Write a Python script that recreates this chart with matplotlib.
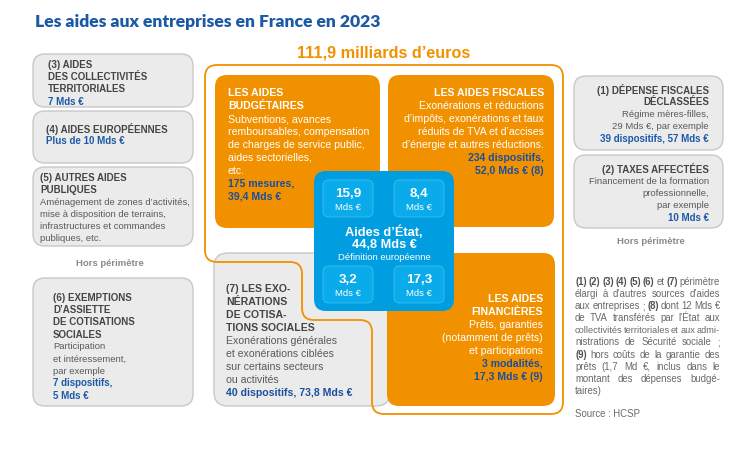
import matplotlib
matplotlib.use("Agg")
import matplotlib.pyplot as plt
import numpy as np
from matplotlib.patches import FancyBboxPatch, PathPatch
from matplotlib.path import Path

# ==========================================
# ================ DONNÉES =================
# ==========================================
titre = "Les aides aux entreprises en France en 2023"
total_mds = "111,9"

budget_titre = ["LES AIDES", "BUDGÉTAIRES"]
budget_texte = ["Subventions, avances", "remboursables, compensation",
                "de charges de service public,", "aides sectorielles,", "etc."]
budget_nb, budget_mds = "175 mesures", "39,4"

fiscal_titre = ["LES AIDES FISCALES"]
fiscal_texte = ["Exonérations et réductions", "d’impôts, exonérations et taux",
                "réduits de TVA et d’accises", "d’énergie et autres réductions."]
fiscal_nb, fiscal_mds = "234 dispositifs", "52,0"

financ_titre = ["LES AIDES", "FINANCIÈRES"]
financ_texte = ["Prêts, garanties", "(notamment de prêts)", "et participations"]
financ_nb, financ_mds = "3 modalités", "17,3"

exo_titre = ["(7) LES EXO-", "NÉRATIONS", "DE COTISA-", "TIONS SOCIALES"]
exo_texte = ["Exonérations générales", "et exonérations ciblées",
             "sur certains secteurs", "ou activités"]
exo_nb, exo_mds = "40 dispositifs", "73,8"

etat_total = "44,8"
etat_parts = ["15,9", "8,4", "3,2", "17,3"]   # budgétaires, fiscales, exonérations, financières

# hors périmètre, à gauche
gauche = [
    (["(3) AIDES", "DES COLLECTIVITÉS", "TERRITORIALES"], [], ["7 Mds €"]),
    (["(4) AIDES EUROPÉENNES"], [], ["Plus de 10 Mds €"]),
    (["(5) AUTRES AIDES", "PUBLIQUES"],
     ["Aménagement de zones d’activités,", "mise à disposition de terrains,",
      "infrastructures et commandes", "publiques, etc."], []),
    (["(6) EXEMPTIONS", "D’ASSIETTE", "DE COTISATIONS", "SOCIALES"],
     ["Participation", "et intéressement,", "par exemple"], ["7 dispositifs,", "5 Mds €"]),
]
# hors périmètre, à droite
droite = [
    (["(1) DÉPENSE FISCALES", "DÉCLASSÉES"], ["Régime mères-filles,", "29 Mds €, par exemple"],
     ["39 dispositifs, 57 Mds €"]),
    (["(2) TAXES AFFECTÉES"], ["Financement de la formation", "professionnelle,", "par exemple"],
     ["10 Mds €"]),
]

notes = [
    "*(1) *(2) *(3) *(4) *(5) *(6) et *(7) périmètre",
    "élargi à d’autres sources d’aides",
    "aux entreprises ; *(8) dont 12 Mds €",
    "de TVA transférés par l’État aux",
    "collectivités territoriales et aux admi-",
    "nistrations de Sécurité sociale ;",
    "*(9) hors coûts de la garantie des",
    "prêts (1,7 Md €, inclus dans le",
    "montant des dépenses budgé-",
    "taires)",
]
source = "Source : HCSP"

# ==========================================
# ================ COULEURS ================
# ==========================================
ORANGE = "#f29100"
BLEU_TITRE = "#1d5aa6"
BLEU_TXT = "#1b4f9b"
BLEU_BOITE = "#009ee0"
BLEU_CASE = "#0aabea"
GRIS_FOND = "#ebebeb"
GRIS_BORD = "#c8c8c8"
GRIS_TITRE = "#454545"
GRIS_TXT = "#5a5a5a"

plt.rcParams['font.family'] = ['Liberation Sans', 'DejaVu Sans']

fig = plt.figure(figsize=(7.4, 4.6), dpi=100)
ax = fig.add_axes([0, 0, 1, 1])
ax.set_xlim(0, 740)
ax.set_ylim(460, 0)
ax.axis('off')


def boite(x0, y0, x1, y1, fc, ec='none', r=10, lw=1.0, z=1):
    p = FancyBboxPatch((x0, y0), x1 - x0, y1 - y0,
                       boxstyle="round,pad=0,rounding_size=%g" % r,
                       fc=fc, ec=ec, lw=lw, zorder=z)
    ax.add_patch(p)


def chemin_arrondi(pts, r):
    pts = [np.array(p, float) for p in pts]
    verts, codes = [], []
    n = len(pts)
    for i in range(n):
        p0, p1, p2 = pts[i - 1], pts[i], pts[(i + 1) % n]
        d1 = (p0 - p1) / np.linalg.norm(p0 - p1)
        d2 = (p2 - p1) / np.linalg.norm(p2 - p1)
        a, b = p1 + d1 * r, p1 + d2 * r
        verts.append(a)
        codes.append(Path.MOVETO if i == 0 else Path.LINETO)
        verts += [p1, b]
        codes += [Path.CURVE3, Path.CURVE3]
    verts.append(verts[0])
    codes.append(Path.CLOSEPOLY)
    return Path(verts, codes)


def lignes(x, y, blocs, ha='left', dy=13, size=7.6, z=5):
    # blocs : liste de (textes, couleur, gras, taille)
    for textes, couleur, gras, taille in blocs:
        for t in textes:
            ax.text(x, y, t, ha=ha, va='center_baseline', fontsize=taille or size,
                    color=couleur, fontweight='bold' if gras else 'normal', zorder=z)
            y += dy


# ---- titres ----
ax.text(35, 22, titre, ha='left', va='center', fontsize=12.6, fontweight='heavy',
        color=BLEU_TITRE, family=['Lato', 'DejaVu Sans'])
ax.text(384, 53, total_mds + " milliards d’euros", ha='center', va='center',
        fontsize=11.7, fontweight='bold', color=ORANGE)

# ---- boîte (7), sous le contour ----
boite(214, 254, 390, 407, GRIS_FOND, GRIS_BORD, r=14, z=1)

# ---- contour orange ----
contour = chemin_arrondi([(205, 66), (563, 66), (563, 415), (372, 415), (372, 321),
                          (302, 321), (302, 263), (205, 263)], 12)
ax.add_patch(PathPatch(contour, fc='none', ec=ORANGE, lw=1.3, zorder=2))

# ---- boîtes orange ----
boite(215, 76, 380, 229, ORANGE, r=12, z=3)
boite(388, 76, 554, 228, ORANGE, r=12, z=3)
boite(387, 254, 555, 407, ORANGE, r=12, z=3)

lignes(228, 92, [(budget_titre, 'white', True, None), (budget_texte, 'white', False, None),
                 ([budget_nb + ",", budget_mds + " Mds €"], BLEU_TXT, True, None)])
lignes(544, 92, [(fiscal_titre, 'white', True, None), (fiscal_texte, 'white', False, None),
                 ([fiscal_nb + ",", fiscal_mds + " Mds € (8)"], BLEU_TXT, True, None)], ha='right')
lignes(543, 298, [(financ_titre, 'white', True, None), (financ_texte, 'white', False, None),
                  ([financ_nb + ",", financ_mds + " Mds € (9)"], BLEU_TXT, True, None)], ha='right')
lignes(226, 288, [(exo_titre, GRIS_TITRE, True, None), (exo_texte, GRIS_TXT, False, None),
                  ([exo_nb + ", " + exo_mds + " Mds €"], BLEU_TXT, True, None)])

# ---- aides d'État ----
boite(314, 172, 454, 312, BLEU_BOITE, r=12, z=6)
cases = [(323, 181), (394, 181), (323, 267), (394, 267)]
for (cx, cy), v in zip(cases, etat_parts):
    boite(cx, cy, cx + 50, cy + 37, BLEU_CASE, "#3cc0f2", r=6, lw=0.6, z=7)
    ax.text(cx + 25, cy + 12, v, ha='center', va='center_baseline', fontsize=9.6,
            fontweight='bold', color='white', zorder=8)
    ax.text(cx + 25, cy + 26, "Mds €", ha='center', va='center_baseline', fontsize=6.8,
            color='white', zorder=8)
ax.text(384, 231, "Aides d’État,", ha='center', va='center_baseline', fontsize=9.2,
        fontweight='bold', color='white', zorder=8)
ax.text(384, 244, etat_total + " Mds €", ha='center', va='center_baseline', fontsize=9.2,
        fontweight='bold', color='white', zorder=8)
ax.text(384, 256, "Définition européenne", ha='center', va='center_baseline', fontsize=6.8,
        color='white', zorder=8)

# ---- hors périmètre gauche ----
cadres_g = [(55, 108, 48, 64), (112, 164, 46, 128), (168, 247, 40, 177), (279, 407, 53, 297)]
for (y0, y1, tx, ty), (tt, tx_, nb) in zip(cadres_g, gauche):
    boite(33, y0, 193, y1, GRIS_FOND, GRIS_BORD, r=12, z=1)
    lignes(tx, ty, [(tt, GRIS_TITRE, True, 7.0), (tx_, GRIS_TXT, False, 6.8),
                    (nb, BLEU_TITRE, True, 7.0)], dy=12.2)
ax.text(110, 264, "Hors périmètre", ha='center', va='center', fontsize=6.8,
        fontweight='bold', color='#8a8a8a')

# ---- hors périmètre droite ----
cadres_d = [(77, 151, 89), (156, 229, 168)]
for (y0, y1, ty), (tt, tx_, nb) in zip(cadres_d, droite):
    boite(574, y0, 723, y1, GRIS_FOND, GRIS_BORD, r=12, z=1)
    lignes(709, ty, [(tt, GRIS_TITRE, True, 7.0), (tx_, GRIS_TXT, False, 6.8),
                     (nb, BLEU_TITRE, True, 7.0)], ha='right', dy=12.2)
ax.text(651, 242, "Hors périmètre", ha='center', va='center', fontsize=6.8,
        fontweight='bold', color='#8a8a8a')

# ---- notes, texte justifié ----
renderer = fig.canvas.get_renderer()
nx0, nx1 = 575, 720
taille = 6.9
for i, ligne in enumerate(notes):
    y = 281 + 12.1 * i
    mots = []
    for m in ligne.split():
        gras = m.startswith("*")
        t = ax.text(nx0, y, m.lstrip("*"), ha='left', va='center_baseline', fontsize=taille,
                    color='#505050' if gras else '#6a6a6a',
                    fontweight='bold' if gras else 'normal')
        mots.append(t)
    largeurs = [t.get_window_extent(renderer).width for t in mots]
    if i < len(notes) - 1 and len(mots) > 1:
        mini = 1.6 * (len(mots) - 1)
        if sum(largeurs) + mini > nx1 - nx0:
            # ligne trop longue : on resserre la police
            k = (nx1 - nx0 - mini) / sum(largeurs)
            for t in mots:
                t.set_fontsize(taille * k)
            largeurs = [w * k for w in largeurs]
        ecart = (nx1 - nx0 - sum(largeurs)) / (len(mots) - 1)
    else:
        ecart = 2.5
    x = nx0
    for t, w in zip(mots, largeurs):
        t.set_x(x)
        x += w + ecart
ax.text(nx0, 413, source, ha='left', va='center_baseline', fontsize=taille, color='#6a6a6a')

fig.savefig("out.png", dpi=100)
